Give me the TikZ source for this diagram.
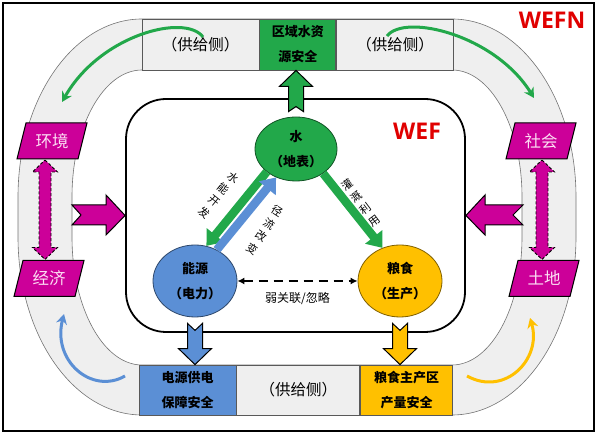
\documentclass[tikz,border=0pt]{standalone}
\usepackage{fontspec}
\setmainfont{Noto Sans CJK SC}
\newfontfamily\latinfont{Open Sans}
\usepackage{tikz}
\usetikzlibrary{calc, positioning, shapes.geometric, arrows.meta}

\definecolor{wgreen}{RGB}{34,168,74}
\definecolor{eblue}{RGB}{91,143,213}
\definecolor{fyellow}{RGB}{255,192,0}
\definecolor{nexmag}{RGB}{204,0,153}
\definecolor{magtext}{RGB}{252,222,243}
\definecolor{bandgray}{RGB}{239,239,239}
\definecolor{wefred}{RGB}{224,0,0}

\tikzset{
    supbox/.style={draw=black!65, line width=0.8pt, fill=bandgray, inner sep=0pt,
        font=\fontsize{15.5}{17}\selectfont},
    secbox/.style={draw=black!65, line width=0.8pt, inner sep=0pt, align=center,
        font=\fontsize{13}{25}\selectfont\bfseries},
    sysnode/.style={ellipse, line width=0.8pt, inner sep=0pt, align=center,
        font=\fontsize{13}{25}\selectfont\bfseries},
    magtxt/.style={inner sep=0pt, text=magtext, font=\fontsize{16.5}{18}\selectfont},
    flowarr/.style={line width=8.5pt, -{Triangle[length=14pt, width=21pt]}},
    bentarr/.style={line width=3pt, -{Stealth[length=10pt, width=11pt]}},
    linklab/.style={align=center, font=\fontsize{11}{15}\selectfont},
}

% notched block arrow: colour, tail, tip, notch offset, head offset
\newcommand{\blockarr}[5]{%
    \draw[fill=#1, line width=1pt] ($(#2)+(-7.5,0)$) -- ($(#2)+(0,#4)$) -- ($(#2)+(7.5,0)$)
        -- ($(#3)+(7.5,#5)$) -- ($(#3)+(16.5,#5)$) -- (#3) -- ($(#3)+(-16.5,#5)$)
        -- ($(#3)+(-7.5,#5)$) -- cycle;}

% double headed block arrow between two points
\newcommand{\dblarr}[2]{%
    \draw[fill=nexmag, densely dashed, line width=0.9pt, preaction={draw=white, line width=0.9pt}]
        (#1) -- ($(#1)+(12.5,-12)$) -- ($(#1)+(6,-12)$) -- ($(#2)+(6,12)$) -- ($(#2)+(12.5,12)$)
        -- (#2) -- ($(#2)+(-12.5,12)$) -- ($(#2)+(-6,12)$) -- ($(#1)+(-6,-12)$)
        -- ($(#1)+(-12.5,-12)$) -- cycle;}

% slanted magenta box with its text: name, centre, text
\newcommand{\magnode}[3]{%
    \draw[fill=nexmag, line width=1pt] ($(#2)+(-26,18)$) -- ++(61,0) -- ++(-9,-36) -- ++(-61,0) -- cycle;
    \node[magtxt] (#1) at (#2) {#3};}

\begin{document}
\begin{tikzpicture}[x=1pt, y=1pt]
    \useasboundingbox (0,0) rectangle (600,433);
    \draw[line width=1.5pt] (3,2) rectangle (594,430);

    % WEFN ring
    \draw[draw=black!55, line width=0.6pt, fill=bandgray, even odd rule]
        (142,414) -- (452,414) arc[start angle=90, end angle=0, x radius=124, y radius=178]
        -- (576,196) arc[start angle=0, end angle=-90, x radius=124, y radius=178]
        -- (142,18) arc[start angle=270, end angle=180, x radius=124, y radius=178]
        -- (18,236) arc[start angle=180, end angle=90, x radius=124, y radius=178] -- cycle
        (142,363) -- (452,363) arc[start angle=90, end angle=0, x radius=70, y radius=127]
        -- (522,196) arc[start angle=0, end angle=-90, x radius=70, y radius=128]
        -- (142,68) arc[start angle=270, end angle=180, x radius=70, y radius=128]
        -- (72,236) arc[start angle=180, end angle=90, x radius=70, y radius=127] -- cycle;

    \node[supbox, minimum width=117pt, minimum height=51pt] (supl) at (200.5,388.5) {（供给侧）};
    \node[secbox, fill=wgreen, minimum width=76pt, minimum height=51pt, right=0pt of supl] (wbox) {区域水资\\源安全};
    \node[supbox, minimum width=117pt, minimum height=51pt, right=0pt of wbox] (supr) {（供给侧）};

    \node[secbox, fill=eblue, minimum width=97pt, minimum height=50pt] (ebox) at (187.5,43) {电源供电\\保障安全};
    \node[supbox, minimum width=123pt, minimum height=50pt, right=0pt of ebox] (supb) {（供给侧）};
    \node[secbox, fill=fyellow, minimum width=92pt, minimum height=50pt, right=0pt of supb] (fbox) {粮食主产区\\产量安全};

    \node[font=\fontsize{23}{26}\selectfont\latinfont\bfseries, text=wefred] (wefnlab) at (552,413) {WEFN};

    % curved arrows in the ring
    \draw[bentarr, wgreen] (203,396) .. controls (185,420) and (100,398) .. (62,331);
    \draw[bentarr, wgreen] (387,397) .. controls (405,420) and (495,398) .. (534,335);
    \draw[bentarr, eblue] (125,57) .. controls (92,38) and (52,72) .. (64,119);
    \draw[bentarr, fyellow] (467,57) .. controls (505,36) and (542,74) .. (530,115);

    % WEF frame
    \node[draw, line width=1.8pt, rounded corners=40pt, minimum width=339pt, minimum height=233pt] (wef) at (295.5,217.5) {};
    \node[font=\fontsize{23}{26}\selectfont\latinfont\bfseries, text=wefred] (weflab) at (417,302) {WEF};

    \magnode{env}{52,292}{环境}
    \magnode{econ}{49,154.5}{经济}
    \magnode{soc}{541,292}{社会}
    \magnode{land}{544,154.5}{土地}

    \coordinate (envb) at ($(env)+(-7,-19)$);
    \coordinate (econt) at ($(econ)+(-4,19)$);
    \coordinate (socb) at ($(soc)+(1,-19)$);
    \coordinate (landt) at ($(land)+(-2,19)$);
    \dblarr{envb}{econt}
    \dblarr{socb}{landt}

    \draw[fill=nexmag, line width=1pt] (72,228) -- (106,228) -- (106,238) -- (wef.west)
        -- (106,198) -- (106,208) -- (72,208) -- (81,218) -- cycle;
    \draw[fill=nexmag, line width=1pt] (523,228) -- (485,228) -- (485,238) -- (wef.east)
        -- (485,198) -- (485,208) -- (523,208) -- (513,218) -- cycle;

    % water, energy, food
    \node[sysnode, fill=wgreen, draw=wgreen!50!black, minimum width=82pt, minimum height=64pt] (water) at (296,284) {水\\（地表）};
    \node[sysnode, fill=eblue, draw=eblue!50!black, minimum width=84pt, minimum height=72pt] (energy) at (195,152) {能源\\（电力）};
    \node[sysnode, fill=fyellow, draw=fyellow!50!black, minimum width=84pt, minimum height=72pt] (food) at (400,152) {粮食\\（生产）};

    \draw[flowarr, wgreen] (water.218) -- (energy.72);
    \draw[flowarr, eblue] (energy.55) -- (water.235);
    \draw[flowarr, wgreen] (water.318) -- (food.118);
    \draw[line width=1.6pt, dash pattern=on 9pt off 6pt, {Latex[length=7pt, width=7pt]}-{Latex[length=7pt, width=7pt]}]
        (energy.east) -- (food.west) node[midway, yshift=-18pt, font=\fontsize{12}{13}\selectfont] (weak) {弱关联/忽略};

    \node[linklab, rotate=-39] (hydro) at (219,238) {水\\能\\开\\发};
    \node[linklab, rotate=-33] (runoff) at (265,203) {径\\流\\改\\变};
    \node[linklab, rotate=37] (irrig) at (361,230.5) {灌\\溉\\利\\用};

    \coordinate (wtail) at ($(water.north)+(0,5)$);
    \coordinate (wtip) at (water.north |- wbox.south);
    \blockarr{wgreen}{wtail}{wtip}{5}{-16}
    \coordinate (etail) at ($(energy.south)+(0,-6)$);
    \coordinate (etip) at (energy.south |- ebox.north);
    \blockarr{eblue}{etail}{etip}{-7}{16}
    \coordinate (ftail) at ($(food.south)+(0,-6)$);
    \coordinate (ftip) at (food.south |- fbox.north);
    \blockarr{fyellow}{ftail}{ftip}{-7}{16}
\end{tikzpicture}
\end{document}
